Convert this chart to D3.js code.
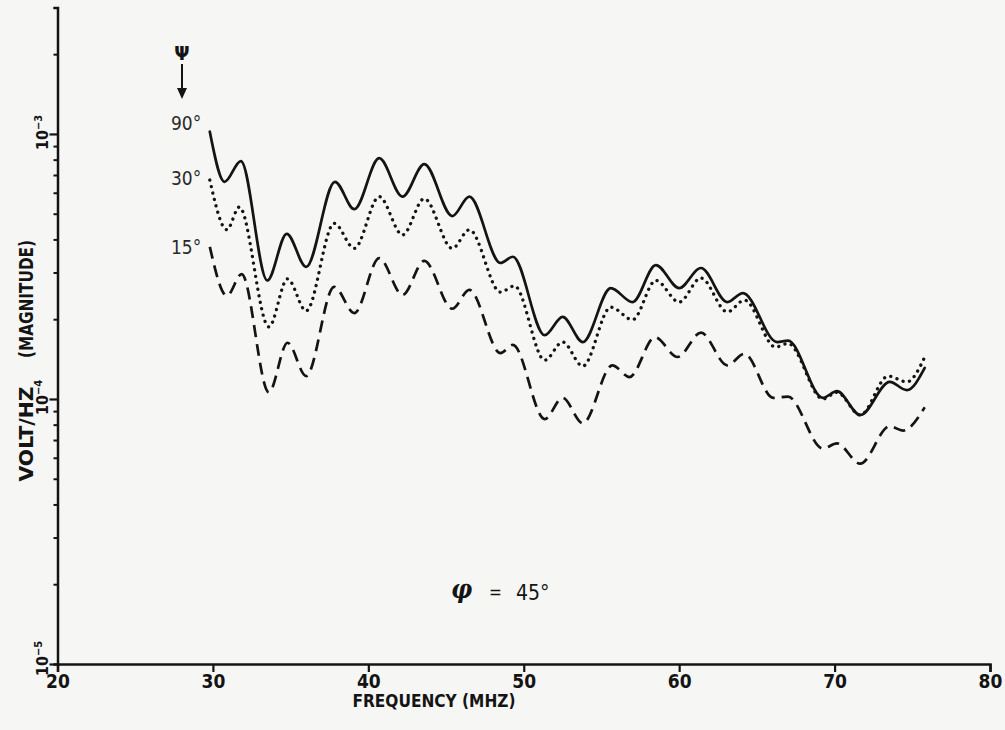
<!DOCTYPE html>
<html>
<head>
<meta charset="utf-8">
<script src="https://cdn.jsdelivr.net/npm/d3@7"></script>
<style>
  html, body { margin: 0; padding: 0; background: #f6f6f4; }
  svg { display: block; }
  text { font-stretch: condensed; }
</style>
</head>
<body>
<div id="chart"></div>
<script>
// frequency (MHz) and magnitude (volt/Hz)
const freq90 = [29.8, 30.75, 31.8, 33.5, 34.75, 36.0, 37.85, 39.1, 40.7, 42.2, 43.6, 45.4, 46.5, 48.5, 49.3, 51.35, 52.5, 53.8, 55.6, 57.0, 58.5, 60.0, 61.4, 63.1, 64.1, 66.3, 67.0, 69.25, 70.15, 71.65, 73.55, 74.65, 75.8];
const mag90 = [1.02e-3, 6.6e-4, 7.9e-4, 2.8e-4, 4.2e-4, 3.15e-4, 6.6e-4, 5.2e-4, 8.1e-4, 5.8e-4, 7.7e-4, 4.9e-4, 5.8e-4, 3.26e-4, 3.44e-4, 1.74e-4, 2.04e-4, 1.64e-4, 2.62e-4, 2.32e-4, 3.2e-4, 2.62e-4, 3.12e-4, 2.32e-4, 2.51e-4, 1.64e-4, 1.66e-4, 1.01e-4, 1.07e-4, 8.7e-5, 1.16e-4, 1.08e-4, 1.31e-4];

const freq30 = [29.8, 30.9, 31.7, 33.6, 34.8, 36.0, 37.8, 39.1, 40.7, 42.2, 43.6, 45.4, 46.5, 48.5, 49.4, 51.35, 52.5, 53.8, 55.6, 57.0, 58.5, 60.0, 61.4, 63.1, 64.2, 66.2, 67.0, 69.25, 70.15, 71.65, 73.45, 74.65, 75.8];
const mag30 = [6.7e-4, 4.35e-4, 5.3e-4, 1.87e-4, 2.84e-4, 2.15e-4, 4.6e-4, 3.7e-4, 5.8e-4, 4.16e-4, 5.7e-4, 3.7e-4, 4.35e-4, 2.53e-4, 2.67e-4, 1.40e-4, 1.64e-4, 1.33e-4, 2.22e-4, 1.99e-4, 2.8e-4, 2.32e-4, 2.86e-4, 2.13e-4, 2.36e-4, 1.57e-4, 1.62e-4, 1.0e-4, 1.06e-4, 8.7e-5, 1.22e-4, 1.16e-4, 1.44e-4];

const freq15 = [29.8, 30.9, 31.85, 33.6, 34.8, 36.0, 37.8, 39.1, 40.7, 42.2, 43.6, 45.4, 46.5, 48.5, 49.3, 51.35, 52.5, 53.8, 55.7, 56.8, 58.45, 59.9, 61.4, 63.1, 64.2, 66.05, 67.0, 69.25, 70.15, 71.65, 73.55, 74.4, 75.8];
const mag15 = [3.75e-4, 2.45e-4, 2.96e-4, 1.06e-4, 1.63e-4, 1.22e-4, 2.65e-4, 2.11e-4, 3.4e-4, 2.47e-4, 3.32e-4, 2.19e-4, 2.58e-4, 1.49e-4, 1.60e-4, 8.4e-5, 1.01e-4, 8.1e-5, 1.34e-4, 1.21e-4, 1.71e-4, 1.44e-4, 1.78e-4, 1.34e-4, 1.48e-4, 1.01e-4, 1.02e-4, 6.5e-5, 6.8e-5, 5.7e-5, 7.9e-5, 7.6e-5, 9.3e-5];

const xTicks = [20, 30, 40, 50, 60, 70, 80];
const yMajor = [{v: 1e-3, exp: "\u22123"}, {v: 1e-4, exp: "\u22124"}, {v: 1e-5, exp: "\u22125"}];
const psiLabels = ["90°", "30°", "15°"];

const W = 1005, H = 730;
const svg = d3.select("#chart").append("svg")
    .attr("width", W)
    .attr("height", H);

const x = d3.scaleLinear().domain([20, 80]).range([57.5, 990]);
const y = d3.scaleLog().domain([1e-5, 3e-3]).range([664, 7.5]);

const ink = "#141414";
const narrow = '"DejaVu Sans Condensed", "DejaVu Sans", sans-serif';

// minor log ticks 2..9 per decade
const yMinor = [];
for (let e = -5; e <= -3; e++) {
    for (let m = 2; m <= 9; m++) {
        const v = m * Math.pow(10, e);
        if (v <= 3e-3) yMinor.push(v);
    }
}

// x axis
const xAxis = svg.append("g")
    .attr("transform", "translate(0," + y(1e-5) + ")")
    .call(d3.axisBottom(x).tickValues(xTicks).tickSize(8).tickPadding(3).tickFormat(d3.format("d")));
xAxis.select(".domain").attr("stroke", ink).attr("stroke-width", 2.5);
xAxis.selectAll(".tick line").attr("stroke", ink).attr("stroke-width", 2.2);
xAxis.selectAll(".tick text")
    .attr("fill", ink)
    .style("font-family", narrow)
    .style("font-size", "19px")
    .style("font-weight", "bold");

// y axis: minor then major ticks
const yAxisMinor = svg.append("g")
    .attr("transform", "translate(" + x(20) + ",0)")
    .call(d3.axisLeft(y).tickValues(yMinor).tickSize(4).tickFormat(""));
yAxisMinor.select(".domain").attr("stroke", ink).attr("stroke-width", 2.5);
yAxisMinor.selectAll(".tick line").attr("stroke", ink).attr("stroke-width", 2);

const yAxisMajor = svg.append("g")
    .attr("transform", "translate(" + x(20) + ",0)")
    .call(d3.axisLeft(y).tickValues(yMajor.map(d => d.v)).tickSize(8).tickFormat(""));
yAxisMajor.select(".domain").remove();
yAxisMajor.selectAll(".tick line").attr("stroke", ink).attr("stroke-width", 2.2);

// rotated 10^n labels
yMajor.forEach(function(d, i) {
    const t = svg.append("text")
        .attr("transform", "translate(48," + (y(d.v) + (i === 2 ? 12 : 16)) + ") rotate(-90)")
        .attr("fill", ink)
        .style("font-family", narrow)
        .style("font-weight", "bold")
        .style("font-size", "16px");
    t.append("tspan").text("10");
    t.append("tspan").attr("dy", -6).style("font-size", "11px").text(d.exp);
});

// axis titles
svg.append("text")
    .attr("x", 434).attr("y", 707)
    .attr("text-anchor", "middle")
    .attr("textLength", 163).attr("lengthAdjust", "spacingAndGlyphs")
    .attr("fill", ink)
    .style("font-family", narrow)
    .style("font-weight", "bold")
    .style("font-size", "17px")
    .text("FREQUENCY (MHZ)");

svg.append("text")
    .attr("transform", "translate(33,434) rotate(-90)")
    .attr("text-anchor", "middle")
    .attr("textLength", 95).attr("lengthAdjust", "spacingAndGlyphs")
    .attr("fill", ink)
    .style("font-family", narrow)
    .style("font-weight", "bold")
    .style("font-size", "20px")
    .text("VOLT/HZ");

svg.append("text")
    .attr("transform", "translate(33,299) rotate(-90)")
    .attr("text-anchor", "middle")
    .attr("textLength", 118).attr("lengthAdjust", "spacingAndGlyphs")
    .attr("fill", ink)
    .style("font-family", narrow)
    .style("font-weight", "bold")
    .style("font-size", "20px")
    .text("(MAGNITUDE)");

// curves
const series = [
    {f: freq90, m: mag90, dash: null, width: 2.7, cap: "round"},
    {f: freq30, m: mag30, dash: "0.1,6.5", width: 3.3, cap: "round"},
    {f: freq15, m: mag15, dash: "12,7", width: 2.7, cap: "butt"}
];
const line = d3.line()
    .x(d => x(d[0]))
    .y(d => y(d[1]))
    .curve(d3.curveMonotoneX);

svg.append("g")
    .selectAll("path")
    .data(series)
    .enter().append("path")
    .attr("d", d => line(d.f.map((v, i) => [v, d.m[i]])))
    .attr("fill", "none")
    .attr("stroke", ink)
    .attr("stroke-width", d => d.width)
    .attr("stroke-linecap", d => d.cap)
    .attr("stroke-linejoin", "round")
    .attr("stroke-dasharray", d => d.dash);

// psi legend
svg.append("text")
    .attr("x", 182).attr("y", 60)
    .attr("text-anchor", "middle")
    .attr("fill", ink)
    .style("font-family", "DejaVu Sans, sans-serif")
    .style("font-weight", "bold")
    .style("font-size", "20px")
    .text("\u03A8");
svg.append("line")
    .attr("x1", 182).attr("x2", 182)
    .attr("y1", 64).attr("y2", 92)
    .attr("stroke", ink).attr("stroke-width", 2);
svg.append("path")
    .attr("d", "M177,88 L182,99 L187,88 Z")
    .attr("fill", ink);

svg.append("g")
    .selectAll("text")
    .data(psiLabels)
    .enter().append("text")
    .attr("x", 171)
    .attr("y", (d, i) => [130, 185, 254][i])
    .attr("fill", "#2a2a2a")
    .style("font-family", narrow)
    .style("font-size", "19px")
    .text(d => d);

// phi annotation
svg.append("text")
    .attr("x", 451).attr("y", 598)
    .attr("fill", ink)
    .style("font-family", "DejaVu Serif, serif")
    .style("font-style", "italic")
    .style("font-weight", "bold")
    .style("font-size", "26px")
    .text("\u03C6");
svg.append("text")
    .attr("x", 489).attr("y", 598)
    .attr("fill", ink)
    .style("font-family", narrow)
    .style("font-size", "17px")
    .text("=");
svg.append("text")
    .attr("x", 516).attr("y", 600)
    .attr("fill", ink)
    .style("font-family", narrow)
    .style("font-size", "21px")
    .text("45°");
</script>
</body>
</html>
